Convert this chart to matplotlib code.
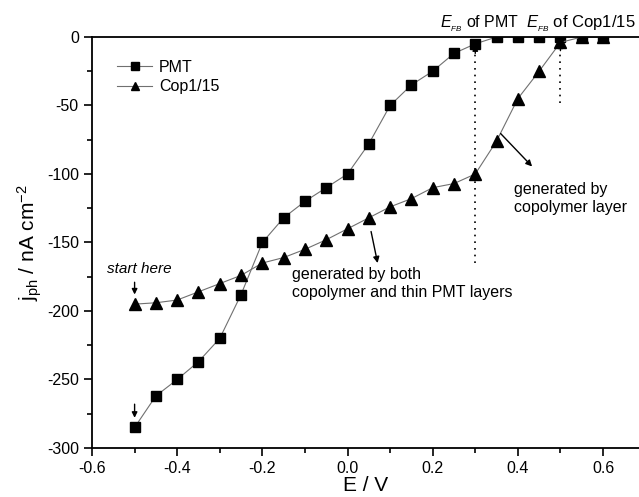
import numpy as np
import matplotlib.pyplot as plt
from matplotlib.ticker import MultipleLocator

plt.rcParams['font.family'] = ['Liberation Sans', 'DejaVu Sans']
plt.rcParams['mathtext.fontset'] = 'custom'
plt.rcParams['mathtext.rm'] = 'Liberation Sans'
plt.rcParams['mathtext.it'] = 'Liberation Sans:italic'
plt.rcParams['axes.unicode_minus'] = False

# potential steps (V)
E = [-0.50, -0.45, -0.40, -0.35, -0.30, -0.25, -0.20, -0.15, -0.10, -0.05,
     0.00, 0.05, 0.10, 0.15, 0.20, 0.25, 0.30, 0.35, 0.40, 0.45, 0.50, 0.55, 0.60]

# photocurrent densities (nA cm^-2)
j_pmt = [-285, -262, -250, -237, -220, -188, -150, -132, -120, -110,
         -100, -78, -50, -35, -25, -12, -5, 0, 0, 0, 0, 0, 0]
j_cop = [-195, -194, -192, -186, -180, -174, -165, -161, -155, -148,
         -140, -132, -124, -118, -110, -107, -100, -76, -45, -25, -4, 0, 0]

fig = plt.figure(figsize=(6.39, 4.97), dpi=100)
ax = fig.add_axes([0.144, 0.0986, 0.856, 0.827])

ax.plot(E, j_pmt, color='#707070', lw=0.8, marker='s', ms=7,
        mfc='black', mec='black', label='PMT')
ax.plot(E, j_cop, color='#707070', lw=0.8, marker='^', ms=8,
        mfc='black', mec='black', label='Cop1/15')

ax.set_xlim(-0.6, 0.6845)
ax.set_ylim(-300, 0)
ax.xaxis.set_major_locator(MultipleLocator(0.2))
ax.xaxis.set_minor_locator(MultipleLocator(0.1))
ax.yaxis.set_major_locator(MultipleLocator(50))
ax.yaxis.set_minor_locator(MultipleLocator(25))
ax.xaxis.set_major_formatter(plt.FuncFormatter(lambda v, p: f'{v:.1f}'))
ax.tick_params(which='major', direction='out', length=6, width=1.2, labelsize=11.5)
ax.tick_params(which='minor', direction='out', length=3.5, width=1.2)
ax.spines['right'].set_visible(False)
for s in ['left', 'bottom', 'top']:
    ax.spines[s].set_linewidth(1.3)

ax.set_xlabel('E / V', fontsize=15, labelpad=0)
ax.set_ylabel(r'j$_{\rm ph}$ / nA cm$^{-2}$', fontsize=15, labelpad=2)

ax.legend(loc='upper left', bbox_to_anchor=(0.02, 0.98), frameon=False,
          fontsize=11.5, handlelength=2.2, handletextpad=0.4,
          labelspacing=0.3, markerscale=0.8)

# flat-band potentials
ax.plot([0.3, 0.3], [-165, -10], color='black', lw=1.2, ls=(0, (1, 3)))
ax.annotate('', xy=(0.3, -4), xytext=(0.3, -14),
            arrowprops=dict(arrowstyle='-|>', color='black', lw=1, mutation_scale=8))
ax.plot([0.5, 0.5], [-48, -10], color='black', lw=1.2, ls=(0, (1, 3)))
ax.annotate('', xy=(0.5, -2), xytext=(0.5, -12),
            arrowprops=dict(arrowstyle='-|>', color='black', lw=1, mutation_scale=8))

ax.text(0.218, 2, r'$E_{_{FB}}$ of PMT', ha='left', va='bottom', fontsize=11.5,
        clip_on=False)
ax.text(0.418, 2, r'$E_{_{FB}}$ of Cop1/15', ha='left', va='bottom', fontsize=12,
        clip_on=False)

# start markers
ax.text(-0.49, -169, 'start here', style='italic', ha='center', va='center', fontsize=11)
ax.annotate('', xy=(-0.5, -190), xytext=(-0.5, -177),
            arrowprops=dict(arrowstyle='-|>', color='black', lw=1, mutation_scale=8))
ax.annotate('', xy=(-0.5, -280), xytext=(-0.5, -266),
            arrowprops=dict(arrowstyle='-|>', color='black', lw=1, mutation_scale=8))

# region notes
ax.annotate('', xy=(0.072, -167), xytext=(0.054, -140),
            arrowprops=dict(arrowstyle='-|>', color='black', lw=1, mutation_scale=9))
ax.text(-0.13, -180, 'generated by both\ncopolymer and thin PMT layers',
        ha='left', va='center', fontsize=11.5, linespacing=1.2)
ax.annotate('', xy=(0.438, -96), xytext=(0.355, -69),
            arrowprops=dict(arrowstyle='-|>', color='black', lw=1, mutation_scale=9))
ax.text(0.392, -118, 'generated by\ncopolymer layer',
        ha='left', va='center', fontsize=11.5, linespacing=1.2)

fig.savefig('out.png', dpi=100)
